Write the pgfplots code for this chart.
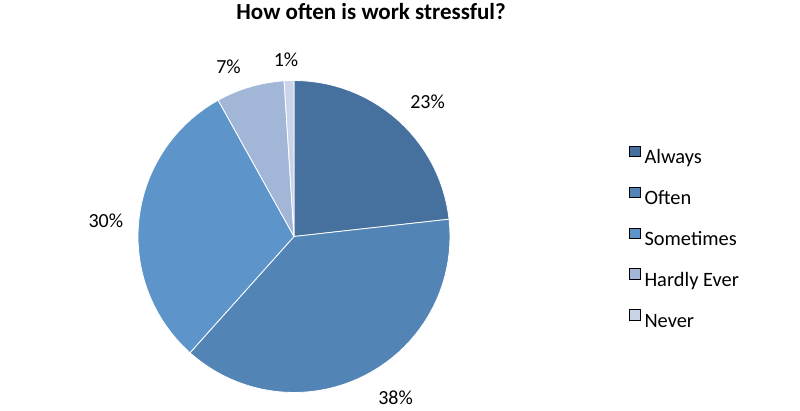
\documentclass[border=0pt]{standalone}
\usepackage{pgfplots}
\pgfplotsset{compat=1.18}
\usepackage{fontspec}
\setmainfont{Carlito}
\definecolor{cAlways}{HTML}{46719E}
\definecolor{cOften}{HTML}{5384B6}
\definecolor{cSome}{HTML}{5D94C9}
\definecolor{cHardly}{HTML}{A2B7D8}
\definecolor{cNever}{HTML}{C9D4E9}
\begin{document}
\begin{tikzpicture}
\begin{axis}[
  width=800pt, height=410pt, scale only axis,
  xmin=-1.8846, xmax=3.2436, ymin=-1.1122, ymax=1.5160,
  hide axis, clip=false,
  legend cell align=left,
  legend image code/.code={\fill[#1] (0pt,2.4pt) rectangle (11pt,12.7pt);},
  legend style={at={(axis cs:2.147,0.583)}, anchor=north west, draw=none, fill=none,
    inner sep=0pt, row sep=19pt, font=\fontsize{20.4}{24}\selectfont,
    nodes={inner sep=0pt, text height=14pt, text depth=4pt},
    /tikz/every odd column/.style={column sep=4pt}},
]
\path (rel axis cs:0,0) rectangle (rel axis cs:1,1);
% Always 23
\addplot[data cs=polar, fill=cAlways, draw=white, line width=0.8pt, line join=round, forget plot]
 coordinates {(0,0) (6.364,1) (9,1) (12,1) (15,1) (18,1) (21,1) (24,1) (27,1) (30,1) (33,1) (36,1) (39,1) (42,1) (45,1) (48,1) (51,1) (54,1) (57,1) (60,1) (63,1) (66,1) (69,1) (72,1) (75,1) (78,1) (81,1) (84,1) (87,1) (90,1)} -- cycle;
% Often 38
\addplot[data cs=polar, fill=cOften, draw=white, line width=0.8pt, line join=round, forget plot]
 coordinates {(0,0) (-131.818,1) (-129,1) (-126,1) (-123,1) (-120,1) (-117,1) (-114,1) (-111,1) (-108,1) (-105,1) (-102,1) (-99,1) (-96,1) (-93,1) (-90,1) (-87,1) (-84,1) (-81,1) (-78,1) (-75,1) (-72,1) (-69,1) (-66,1) (-63,1) (-60,1) (-57,1) (-54,1) (-51,1) (-48,1) (-45,1) (-42,1) (-39,1) (-36,1) (-33,1) (-30,1) (-27,1) (-24,1) (-21,1) (-18,1) (-15,1) (-12,1) (-9,1) (-6,1) (-3,1) (0,1) (3,1) (6.364,1)} -- cycle;
% Sometimes 30
\addplot[data cs=polar, fill=cSome, draw=white, line width=0.8pt, line join=round, forget plot]
 coordinates {(0,0) (119.091,1) (122,1) (125,1) (128,1) (131,1) (134,1) (137,1) (140,1) (143,1) (146,1) (149,1) (152,1) (155,1) (158,1) (161,1) (164,1) (167,1) (170,1) (173,1) (176,1) (179,1) (182,1) (185,1) (188,1) (191,1) (194,1) (197,1) (200,1) (203,1) (206,1) (209,1) (212,1) (215,1) (218,1) (221,1) (224,1) (227,1) (228.182,1)} -- cycle;
% Hardly Ever 7
\addplot[data cs=polar, fill=cHardly, draw=white, line width=0.8pt, line join=round, forget plot]
 coordinates {(0,0) (93.636,1) (96,1) (99,1) (102,1) (105,1) (108,1) (111,1) (114,1) (117,1) (119.091,1)} -- cycle;
% Never 1
\addplot[data cs=polar, fill=cNever, draw=white, line width=0.8pt, line join=round, forget plot]
 coordinates {(0,0) (90,1) (91,1) (92,1) (93,1) (93.636,1)} -- cycle;

\addlegendimage{fill=cAlways}\addlegendentry{Always}
\addlegendimage{fill=cOften}\addlegendentry{Often}
\addlegendimage{fill=cSome}\addlegendentry{Sometimes}
\addlegendimage{fill=cHardly}\addlegendentry{Hardly Ever}
\addlegendimage{fill=cNever}\addlegendentry{Never}

\node[anchor=base, font=\fontsize{23}{27}\selectfont\bfseries] at (axis cs:0.494,1.391) {How often is work stressful?};
\node[anchor=base, font=\fontsize{20}{24}\selectfont] at (axis cs:0.856,0.822) {23\%};
\node[anchor=base, font=\fontsize{20}{24}\selectfont] at (axis cs:0.651,-1.080) {38\%};
\node[anchor=base, font=\fontsize{20}{24}\selectfont] at (axis cs:-1.206,0.059) {30\%};
\node[anchor=base, font=\fontsize{20}{24}\selectfont] at (axis cs:-0.420,1.046) {7\%};
\node[anchor=base, font=\fontsize{20}{24}\selectfont] at (axis cs:-0.051,1.088) {1\%};
\end{axis}
\end{tikzpicture}
\end{document}
